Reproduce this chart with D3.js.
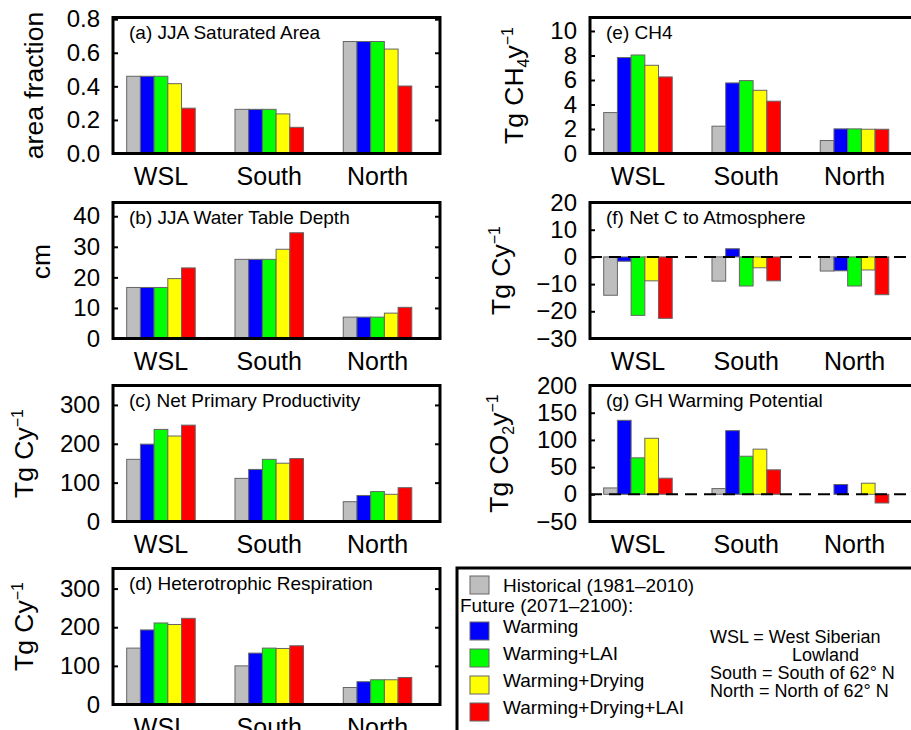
<!DOCTYPE html>
<html>
<head>
<meta charset="utf-8">
<script src="https://cdn.jsdelivr.net/npm/d3@7"></script>
<style>
  body { margin: 0; background: #fff; }
  svg { display: block; font-family: "Liberation Sans", Arial, Helvetica, sans-serif; }
</style>
</head>
<body>
<svg id="chart" width="911" height="730"></svg>
<script>
// regions and scenarios
const regions = ["WSL", "South", "North"];
const scenarios = ["Historical (1981\u20132010)", "Warming", "Warming+LAI", "Warming+Drying", "Warming+Drying+LAI"];
const colors = ["#bebebe", "#0000ff", "#00ff00", "#ffff00", "#ff0000"];

// values, one row per region, one value per scenario
const satArea    = [[0.46, 0.46, 0.46, 0.416, 0.27], [0.263, 0.263, 0.263, 0.236, 0.156], [0.667, 0.667, 0.667, 0.622, 0.402]];
const waterTable = [[16.7, 16.7, 16.7, 19.6, 23.1], [25.9, 25.9, 25.9, 29.2, 34.6], [7.0, 7.0, 7.0, 8.3, 10.2]];
const npp        = [[160, 199, 237, 220, 248], [111, 134, 160, 150, 162], [51, 67, 77, 70, 87]];
const rh         = [[146, 193, 211, 207, 223], [100, 133, 146, 145, 152], [44, 59, 64, 64, 70]];
const ch4        = [[3.34, 7.83, 8.04, 7.2, 6.25], [2.23, 5.76, 5.95, 5.16, 4.27], [1.06, 2.01, 2.01, 1.98, 1.98]];
const netC       = [[-14.1, -1.6, -21.5, -8.8, -22.6], [-8.9, 3.0, -10.7, -4.0, -8.8], [-5.2, -5.1, -10.7, -4.8, -13.9]];
const gwp        = [[11.7, 136, 67, 103, 29.6], [10.5, 117, 70, 83, 45], [0, 18, 0, 20.4, -16]];

// tick values
const ticksA = [0, 0.2, 0.4, 0.6, 0.8];
const ticksB = [0, 10, 20, 30, 40];
const ticksC = [0, 100, 200, 300];
const ticksE = [0, 2, 4, 6, 8, 10];
const ticksF = [-30, -20, -10, 0, 10, 20];
const ticksG = [-50, 0, 50, 100, 150, 200];

// y-axis titles as pieces: [text, "n" | "sub" | "sup"]
const unitC = [["Tg Cy", "n"], ["\u22121", "sup"]];

const panels = [
  { col: 0, row: 0, name: "(a) JJA Saturated Area", values: satArea, domain: [0, 0.81], ticks: ticksA, fmt: d3.format(".1f"),
    ytitle: [["area fraction", "n"]], titleX: 70, titleDy: 0 },
  { col: 0, row: 1, name: "(b) JJA Water Table Depth", values: waterTable, domain: [0, 44.5], ticks: ticksB, fmt: d3.format("d"),
    ytitle: [["cm", "n"]], titleX: 63, titleDy: -9 },
  { col: 0, row: 2, name: "(c) Net Primary Productivity", values: npp, domain: [0, 350], ticks: ticksC, fmt: d3.format("d"),
    ytitle: unitC, titleX: 80, titleDy: 0 },
  { col: 0, row: 3, name: "(d) Heterotrophic Respiration", values: rh, domain: [0, 352], ticks: ticksC, fmt: d3.format("d"),
    ytitle: unitC, titleX: 80, titleDy: -10 },
  { col: 1, row: 0, name: "(e) CH4", values: ch4, domain: [0, 11.1], ticks: ticksE, fmt: d3.format("d"),
    ytitle: [["Tg CH", "n"], ["4", "sub"], ["y", "n"], ["\u22121", "sup"]], titleX: 67, titleDy: 0 },
  { col: 1, row: 1, name: "(f) Net C to Atmosphere", values: netC, domain: [-30, 20], ticks: ticksF, fmt: d3.format("d"),
    ytitle: unitC, titleX: 80, titleDy: 0, zero: true },
  { col: 1, row: 2, name: "(g) GH Warming Potential", values: gwp, domain: [-50, 200], ticks: ticksG, fmt: d3.format("d"),
    ytitle: [["Tg CO", "n"], ["2", "sub"], ["y", "n"], ["\u22121", "sup"]], titleX: 82, titleDy: 0, zero: true }
];

const svg = d3.select("#chart");
svg.append("rect").attr("width", 911).attr("height", 730).attr("fill", "#fff");

const panelW = 327, panelH = 136;
const colX = [113, 590];
const rowY = [17.5, 202.5, 385.5, 568.5];

panels.forEach(p => {
  const g = svg.append("g").attr("transform", `translate(${colX[p.col]},${rowY[p.row]})`);

  const x = d3.scaleLinear().domain([-0.443, 2.577]).range([0, panelW]);
  const y = d3.scaleLinear().domain(p.domain).range([panelH, 0]);
  const bw = x(0.1266) - x(0);

  // bars
  g.selectAll("g.grp")
    .data(p.values)
    .join("g")
    .attr("class", "grp")
    .each(function (vals, i) {
      d3.select(this).selectAll("rect")
        .data(vals)
        .join("rect")
        .attr("x", (d, j) => x(i) + (j - 2.5) * bw)
        .attr("width", bw)
        .attr("y", d => Math.min(y(d), y(0)))
        .attr("height", d => Math.abs(y(d) - y(0)))
        .attr("fill", (d, j) => colors[j])
        .attr("stroke", "#666")
        .attr("stroke-width", 1);
    });

  // dashed zero line
  if (p.zero) {
    g.append("line")
      .attr("x1", 0).attr("x2", panelW)
      .attr("y1", y(0)).attr("y2", y(0))
      .attr("stroke", "#000").attr("stroke-width", 2)
      .attr("stroke-dasharray", "12,7");
  }

  // axes with inward ticks on both sides
  const left = g.append("g")
    .call(d3.axisLeft(y).tickValues(p.ticks).tickSize(-5).tickPadding(13).tickFormat(p.fmt));
  left.select(".domain").remove();
  left.attr("font-size", 24).attr("font-family", null);
  left.selectAll("line").attr("stroke-width", 2);
  left.selectAll("text").attr("fill", "#000");

  const right = g.append("g")
    .attr("transform", `translate(${panelW},0)`)
    .call(d3.axisRight(y).tickValues(p.ticks).tickSize(-5).tickFormat(""));
  right.select(".domain").remove();
  right.selectAll("line").attr("stroke-width", 2);

  // frame
  g.append("rect")
    .attr("width", panelW).attr("height", panelH)
    .attr("fill", "none").attr("stroke", "#000").attr("stroke-width", 3);

  // category labels
  g.selectAll("text.cat")
    .data(regions)
    .join("text")
    .attr("class", "cat")
    .attr("x", (d, i) => x(i))
    .attr("y", panelH + 31)
    .attr("text-anchor", "middle")
    .attr("font-size", 25)
    .text(d => d);

  // panel title
  g.append("text")
    .attr("x", 16).attr("y", 21)
    .attr("font-size", 19)
    .text(p.name);

  // y title
  const t = g.append("text")
    .attr("transform", `translate(${-p.titleX},${panelH / 2 + p.titleDy}) rotate(-90)`)
    .attr("text-anchor", "middle")
    .attr("font-size", 26.5);
  let shift = 0;
  p.ytitle.forEach(([txt, kind]) => {
    const target = kind === "sup" ? -10 : kind === "sub" ? 6 : 0;
    t.append("tspan")
      .attr("dy", target - shift)
      .attr("font-size", kind === "n" ? 26.5 : 16)
      .text(txt);
    shift = target;
  });
});

// legend box
const leg = svg.append("g");
leg.append("rect")
  .attr("x", 457).attr("y", 568)
  .attr("width", 480).attr("height", 200)
  .attr("fill", "none").attr("stroke", "#000").attr("stroke-width", 3);

const sqTop = i => (i === 0 ? 576 : 622 + (i - 1) * 27);
leg.selectAll("rect.key")
  .data(scenarios)
  .join("rect")
  .attr("class", "key")
  .attr("x", 470).attr("y", (d, i) => sqTop(i))
  .attr("width", 19).attr("height", 18)
  .attr("fill", (d, i) => colors[i])
  .attr("stroke", "#666").attr("stroke-width", 1);

leg.selectAll("text.key")
  .data(scenarios)
  .join("text")
  .attr("class", "key")
  .attr("x", 503)
  .attr("y", (d, i) => sqTop(i) + (i === 0 ? 16 : 11))
  .attr("font-size", 19)
  .text(d => d);

leg.append("text")
  .attr("x", 460).attr("y", 612)
  .attr("font-size", 19)
  .text("Future (2071\u20132100):");

const notes = ["WSL = West Siberian", "Lowland", "South = South of 62\u00b0 N", "North = North of 62\u00b0 N"];
leg.selectAll("text.note")
  .data(notes)
  .join("text")
  .attr("class", "note")
  .attr("x", (d, i) => (i === 1 ? 792 : 710))
  .attr("y", (d, i) => 643 + i * 18)
  .attr("font-size", 18)
  .text(d => d);
</script>
</body>
</html>
